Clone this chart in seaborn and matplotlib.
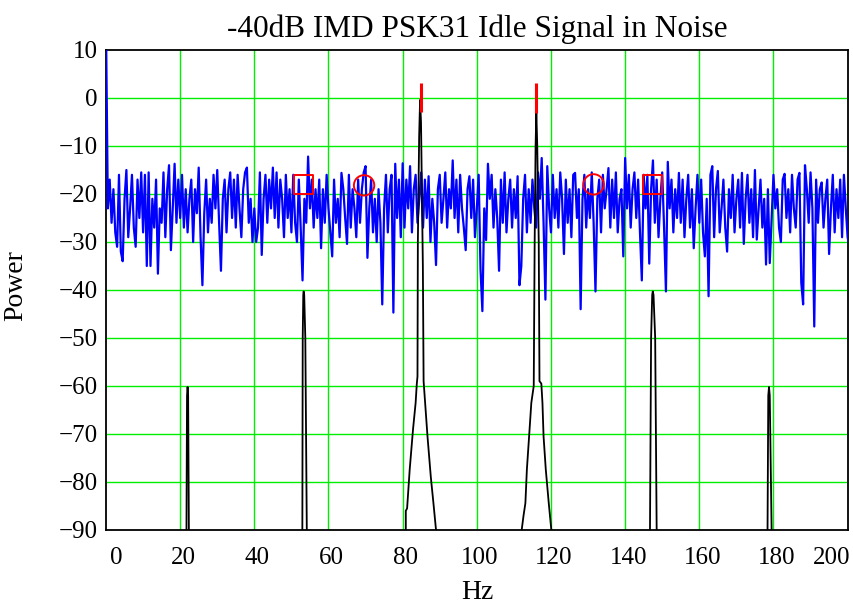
import numpy as np
import pandas as pd
import seaborn as sns
import matplotlib.pyplot as plt
from matplotlib.transforms import ScaledTranslation

# noise floor, one value every 0.5 Hz starting at 0 Hz
noise_step = 0.5
noise_db = [
    15, -23, -17, -26, -19, -28, -31, -16, -32, -34, -21, -15, -29, -23, -16, -27, -31, -17, -25, -15.5,
    -28, -16, -35, -15.5, -35, -21, -27, -17, -36.6, -23, -26, -15.5, -29, -19, -14, -31.7, -23, -13.7, -26, -17,
    -25, -16, -27, -19, -28, -21, -17, -30, -19, -24, -14.5, -29, -39, -24, -17, -28, -21, -26, -16, -23,
    -15, -26, -36, -21, -17, -28, -19, -15.5, -25, -17, -27, -16, -23, -29, -19, -15.5, -14.5, -26, -21, -30,
    -23, -30, -27, -15.5, -32.7, -21, -16, -26, -17, -23, -14.5, -25, -15.5, -27, -17, -21, -29, -16, -25, -19,
    -28, -16, -26, -30, -17, -27, -38, -21, -26, -12.2, -23, -17, -27, -19, -25, -17, -31.3, -19, -26, -16,
    -23, -28, -33, -17, -26, -21, -29, -15.6, -19, -25, -30.4, -16, -27, -19, -23, -29, -17, -26, -19, -15.5,
    -14.2, -33.3, -23, -17, -28, -21, -30, -19, -26, -43, -23, -16, -28, -19, -16, -44.7, -13.7, -25, -17, -29,
    -13.6, -27, -17, -23, -14.2, -28, -19, -16, -26, -21, -15.5, -27, -17, -25, -16.3, -30, -21, -26, -34.8, -19,
    -16, -26, -21, -15.5, -27, -19, -23, -13, -25, -17, -28, -16, -23, -27, -31.7, -19, -16.3, -25, -17, -29,
    -23, -16, -35.7, -44.4, -23, -29.6, -13.7, -21, -16, -27, -19, -25, -36, -17, -26, -15.5, -28, -21, -17, -27,
    -19, -25, -16.3, -39, -35, -21, -16, -28, -19, -26, -17, -23, -27, -15.5, -21, -12.5, -26, -42, -14.2, -23,
    -28, -16, -25, -19, -27, -15.5, -21, -32.5, -17, -26, -19, -29, -16, -15.6, -25, -19, -44, -21, -16, -27,
    -19, -25, -15.5, -26, -40.3, -21, -17, -28, -16, -23, -19, -14.6, -27, -17, -25, -15.5, -28, -21, -19, -33,
    -12.5, -23, -16, -27, -19, -15.5, -25, -17, -28, -38, -16, -23, -16, -34.5, -19, -13, -26, -17, -29, -21,
    -15.5, -27, -40.3, -13.3, -23, -17, -28, -19, -25, -15.6, -26, -17, -29, -21, -16, -27, -19, -31.3, -23, -16,
    -26, -17, -28, -33, -21, -41.3, -16, -14.2, -29, -19, -15.2, -28, -23, -17, -27, -32, -19, -25, -16, -28,
    -21, -17, -27, -15.6, -30.4, -21, -16, -26, -19, -29, -15, -29.5, -23, -17, -27, -21, -34.7, -19, -34.4, -25,
    -16, -23, -19, -27, -30, -17, -15.8, -25, -19, -28, -16, -23, -27, -17, -15.6, -38.5, -43, -14, -19, -26,
    -15.5, -23, -47.6, -17, -26, -19, -17.6, -27, -21, -17, -32.5, -23, -16, -28, -19, -25, -17, -29, -16, -23,
    -29, -31,
]

# signal + IMD products (black trace)
sig_hz = [0, 21.5, 21.7, 21.85, 22.0, 22.15, 22.35, 22.5,
          52.7, 52.95, 53.05, 53.2, 53.3, 53.45, 53.75, 54.15, 54.3,
          80.85, 80.85, 81.2, 81.9, 82.8, 83.5, 83.8, 84.0, 84.1, 84.45, 84.7, 84.95, 85.45, 85.65,
          86.7, 87.6, 88.3, 89.0, 89.2,
          112.1, 112.1, 112.6, 113.1, 113.5, 114.1, 114.7, 115.35, 115.6, 115.85, 116.05, 116.3, 116.7,
          116.9, 117.4, 117.7, 118.0, 118.6, 119.4, 120.1, 120.3,
          146.5, 146.7, 147.0, 147.3, 147.45, 147.65, 148.1, 148.5, 148.7,
          178.2, 178.4, 178.6, 178.8, 179.0, 179.5, 179.7, 200.5]
sig_db = [-130, -130, -90, -62, -60.2, -62, -90, -130,
          -130, -90, -50, -41, -40.3, -41, -50, -90, -130,
          -130, -86, -85.5, -77.4, -69, -63.5, -59.7, -58, -30, -8, -0.4, -5, -35, -59,
          -70.5, -79, -84.4, -90, -130,
          -130, -90, -87, -84.4, -77.4, -70.5, -63.5, -60, -30, -10, -3, -10, -30,
          -59, -59.5, -63.5, -70.5, -77.4, -84.4, -90, -130,
          -130, -90, -50, -41, -40.3, -41, -50, -90, -130,
          -130, -90, -62, -60.2, -62, -90, -130, -130]

# red tone markers (vertical bars) and expected IMD positions
tone_hz = [84.85, 116.05]
tone_lo = [-3.0, -3.1]
tone_hi = [3.1, 3.1]
square_hz = [53.3, 147.4]
square_db = [-18, -18]
circle_hz = [69.6, 131.5]
circle_db = [-18.2, -18]

noise = pd.DataFrame({"Hz": np.arange(len(noise_db)) * noise_step, "Power": noise_db})
sig = pd.DataFrame({"Hz": sig_hz, "Power": sig_db})

sns.set_style("white")
plt.rcParams["font.family"] = ["Liberation Serif", "DejaVu Serif"]
plt.rcParams["text.color"] = "black"
plt.rcParams["axes.labelcolor"] = "black"
plt.rcParams["xtick.color"] = "black"
plt.rcParams["ytick.color"] = "black"

fig = plt.figure(figsize=(8.54, 6.04), dpi=100)
ax = fig.add_axes([106 / 854, 1 - 530 / 604, 742 / 854, 480 / 604])

sns.lineplot(data=noise, x="Hz", y="Power", color="#0000ff", lw=1.6,
             sort=False, estimator=None, ax=ax, zorder=3)
sns.lineplot(data=sig, x="Hz", y="Power", color="black", lw=1.3,
             sort=False, estimator=None, ax=ax, zorder=4)
ax.vlines(tone_hz, tone_lo, tone_hi, color="red", lw=2.2, zorder=5)
sns.scatterplot(x=square_hz, y=square_db, marker="s", s=200, facecolors="none",
                edgecolor="red", linewidth=1.4, ax=ax, zorder=6)
sns.scatterplot(x=circle_hz, y=circle_db, marker="o", s=215, facecolors="none",
                edgecolor="red", linewidth=1.4, ax=ax, zorder=6)

ax.set_xlim(0, 200.1)
ax.set_ylim(-90, 10)
ax.set_xticks(range(0, 201, 20))
ax.set_yticks(range(-90, 11, 10))
for v in range(20, 200, 20):
    ax.axvline(v, color="#00ee00", lw=1, zorder=1)
for v in range(-80, 10, 10):
    ax.axhline(v, color="#00ee00", lw=1, zorder=1)

ax.tick_params(length=0, labelsize=18)
ax.tick_params(axis="x", pad=12)
ax.tick_params(axis="y", pad=6)
# x labels sit a little right of their grid lines, end labels pulled inside
for lab, v in zip(ax.get_xticklabels(), range(0, 201, 20)):
    dx = 10 if v == 0 else (-16 if v == 200 else 3)
    lab.set_transform(lab.get_transform() + ScaledTranslation(dx / 100, 0, fig.dpi_scale_trans))

for s in ax.spines.values():
    s.set_color("black")
    s.set_linewidth(1.3)

ax.set_title("-40dB IMD PSK31 Idle Signal in Noise", fontsize=22.5, pad=9)
ax.set_xlabel("Hz", fontsize=20)
ax.set_ylabel("Power", fontsize=20)
ax.xaxis.set_label_coords(0.5, -0.104)
ax.yaxis.set_label_coords(-0.105, 0.51)

fig.savefig("out.png", dpi=100)
